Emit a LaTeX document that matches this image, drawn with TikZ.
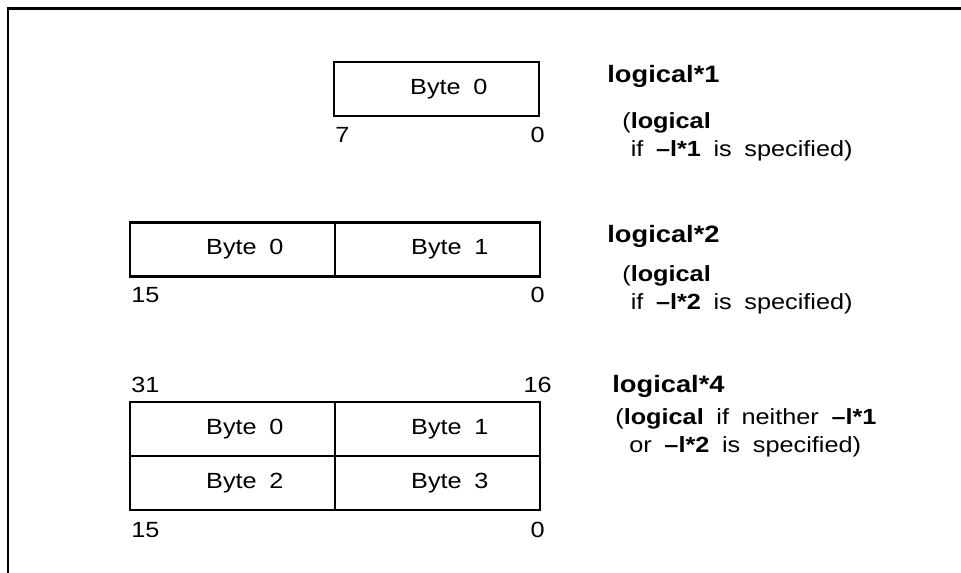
\documentclass[tikz,border=0pt]{standalone}
\usepackage{fontspec}
\setmainfont{Liberation Sans}[FakeStretch=1.15,WordSpace=1.8]
\usetikzlibrary{positioning}
\tikzset{
  % BYTE CELLS
  frameByte/.style={
    rectangle, draw,
    line width=1.3pt,
    minimum width=4.1cm,
    minimum height=1.08cm,
    outer sep=0pt, inner sep=0pt,
    font=\fontsize{12.5}{15}\selectfont,
    execute at begin node=\hspace*{14pt}
  },
  % BIT NUMBERS
  frameBit/.style={
    inner sep=0pt,
    font=\fontsize{12.5}{15}\selectfont
  },
  % TYPE NAMES
  frameType/.style={
    inner sep=0pt, anchor=base west,
    font=\fontsize{13.5}{16}\selectfont\bfseries
  },
  % NOTES (anchored at the baseline of the last line)
  frameNote/.style={
    inner sep=0pt, anchor=base west, align=left,
    font=\fontsize{12.5}{16}\selectfont
  },
  % OUTER FRAME
  lineFrame/.style={line width=1.6pt}
}

\begin{document}
\begin{tikzpicture}[x=0.02cm,y=-0.02cm]
\useasboundingbox (0,0) rectangle (961,573);

% frame (open at right and bottom)
\draw [lineFrame] (8,573) |- (961,8.5);

% logical*1
\node [frameByte] (b1_0) at (436.5,89) {Byte 0};
\node [frameBit, anchor=base west] (b1_hi) at (335,143) {7};
\node [frameBit, anchor=base east] (b1_lo) at (545,143) {0};

% logical*2
\node [frameByte] (b2_0) at (232.5,249.5) {Byte 0};
\node [frameByte, right=0pt of b2_0] (b2_1) {Byte 1};
\node [frameBit, anchor=base west] (b2_hi) at (131,303) {15};
\node [frameBit, anchor=base east] (b2_lo) at (545,303) {0};

% logical*4
\node [frameByte] (b4_0) at (232.5,429) {Byte 0};
\node [frameByte, right=0pt of b4_0] (b4_1) {Byte 1};
\node [frameByte, below=0pt of b4_0] (b4_2) {Byte 2};
\node [frameByte, right=0pt of b4_2] (b4_3) {Byte 3};
\node [frameBit, anchor=base west] (b4_hi) at (131,393) {31};
\node [frameBit, anchor=base east] (b4_mid) at (552,393) {16};
\node [frameBit, anchor=base west] (b4_lo) at (131,538) {15};
\node [frameBit, anchor=base east] (b4_zero) at (545,538) {0};

% Types and notes on the right
\node [frameType] (type1) at (607,83) {logical*1};
\node [frameNote] (note1) at (622,157) {(\textbf{logical}\\\hphantom{(}if \textbf{--l*1} is specified)};

\node [frameType] (type2) at (607,243) {logical*2};
\node [frameNote] (note2) at (622,310) {(\textbf{logical}\\\hphantom{(}if \textbf{--l*2} is specified)};

\node [frameType] (type4) at (612,393) {logical*4};
\node [frameNote] (note4) at (615,453) {(\textbf{logical} if neither \textbf{--l*1}\\\hspace*{8pt}or \textbf{--l*2} is specified)};

\end{tikzpicture}
\end{document}
